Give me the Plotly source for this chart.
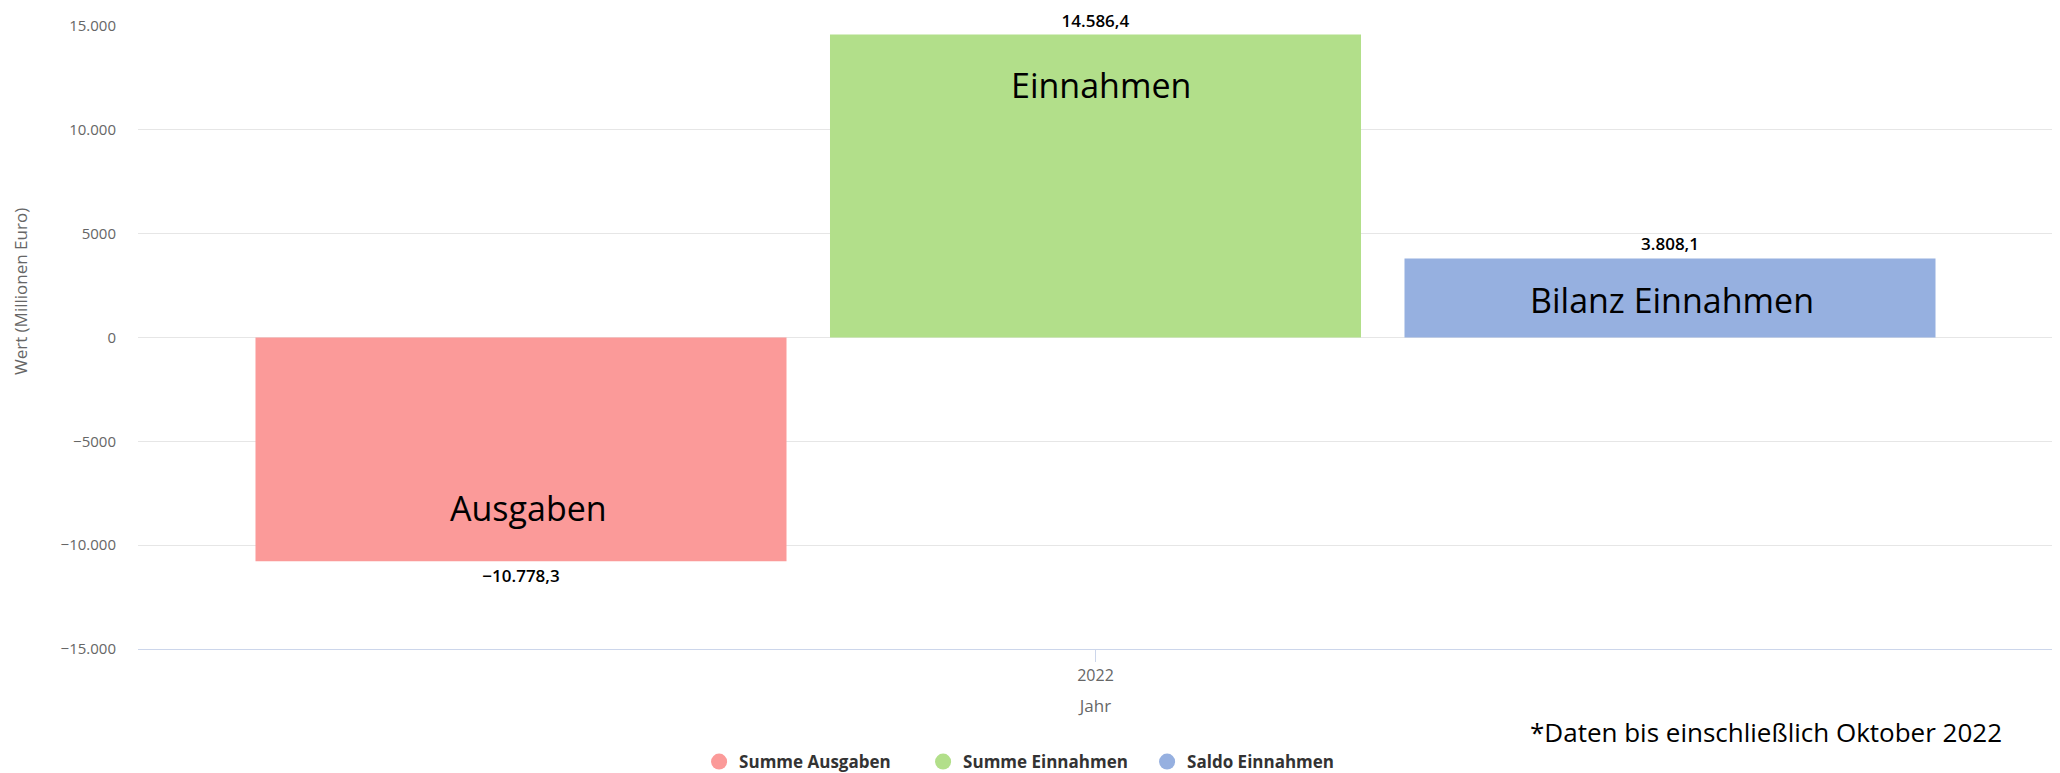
import plotly.graph_objects as go

years = ["2022"]
series_names = ["Summe Ausgaben", "Summe Einnahmen", "Saldo Einnahmen"]
series_values = [-10778.3, 14586.4, 3808.1]
series_colors = ["#fb9a99", "#b2df8a", "#96b0e0"]
bar_labels = ["Ausgaben", "Einnahmen", "Bilanz Einnahmen"]
bar_label_y = [-8210, 12140, 1830]
bar_label_x = [0.204, 0.503, 0.801]
ytick_vals = [-15000, -10000, -5000, 0, 5000, 10000, 15000]
ytick_text = ["−15.000", "−10.000", "−5000", "0", "5000", "10.000", "15.000"]
y_title = "Wert (Millionen Euro)"
x_title = "Jahr"
footnote = "*Daten bis einschließlich Oktober 2022"

FONT = "Open Sans"


def de_fmt(v):
    s = f"{abs(v):,.1f}".replace(",", "X").replace(".", ",").replace("X", ".")
    return ("−" if v < 0 else "") + s


fig = go.Figure()
for name, val, col in zip(series_names, series_values, series_colors):
    fig.add_trace(go.Bar(
        x=years, y=[val], name=name, marker=dict(color=col, line=dict(width=0)),
        text=[de_fmt(val)], textposition="outside", cliponaxis=False,
        textfont=dict(family=FONT, size=17, color="#000000", weight=600),
        showlegend=False,
    ))
    fig.add_trace(go.Scatter(
        x=[None], y=[None], mode="markers", name=name,
        marker=dict(symbol="circle", size=16, color=col),
    ))

for lbl, ly, lx in zip(bar_labels, bar_label_y, bar_label_x):
    fig.add_annotation(x=lx, xref="paper", y=ly, yref="y", text=lbl, showarrow=False,
                       xanchor="center", yanchor="middle",
                       font=dict(family=FONT, size=34, color="#000000"))

fig.add_annotation(x=-0.0616, xref="paper", y=0.573, yref="paper", text=y_title,
                   textangle=-90, showarrow=False, xanchor="center", yanchor="middle",
                   font=dict(family=FONT, size=17, color="#666666"))

fig.add_annotation(x=0.9744, xref="paper", y=-0.1332, yref="paper", text=footnote,
                   showarrow=False, xanchor="right", yanchor="middle",
                   font=dict(family=FONT, size=26, color="#000000"))

# the page body has an 8px margin, so the figure is drawn 8px right and down
fig.update_layout(
    width=2052, height=765,
    margin=dict(l=130, r=7, t=18, b=124),
    paper_bgcolor="#ffffff", plot_bgcolor="#ffffff",
    barmode="group", bargap=0.10, bargroupgap=0.0757,
    font=dict(family=FONT, color="#666666"),
    legend=dict(orientation="h", x=0.293, xanchor="left", xref="paper",
                y=0.0144, yanchor="middle", yref="container",
                font=dict(family=FONT, size=17, color="#333333", weight="bold"),
                traceorder="normal", entrywidth=179, entrywidthmode="pixels"),
    xaxis=dict(type="category", showgrid=False, showline=True, linecolor="#ccd6eb", linewidth=1,
               ticks="outside", ticklen=12, tickcolor="#ccd6eb", automargin=False,
               tickfont=dict(family=FONT, size=16, color="#666666"),
               title=dict(text=x_title, font=dict(family=FONT, size=17, color="#666666"), standoff=14)),
    yaxis=dict(range=[-15000, 15000], tickvals=ytick_vals, ticktext=ytick_text, automargin=False,
               showgrid=True, gridcolor="#e6e6e6", zeroline=False, showline=False,
               tickfont=dict(family=FONT, size=15, color="#666666"), ticklabelstandoff=21),
)

fig.write_html("out.html")
